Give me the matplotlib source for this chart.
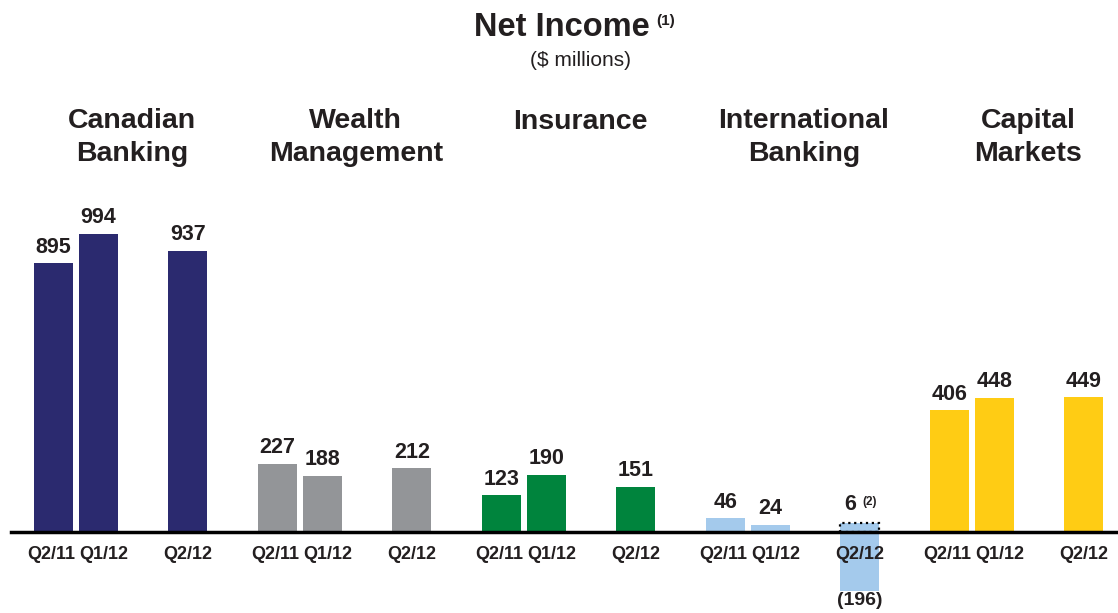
import matplotlib.pyplot as plt
from matplotlib.patches import Rectangle

plt.rcParams['font.family'] = ['Liberation Sans', 'DejaVu Sans']

segments = ["Canadian\nBanking", "Wealth\nManagement", "Insurance",
            "International\nBanking", "Capital\nMarkets"]
quarters = ["Q2/11", "Q1/12", "Q2/12"]
q2_11 = [895, 227, 123, 46, 406]
q1_12 = [994, 188, 190, 24, 448]
q2_12 = [937, 212, 151, -196, 449]
colors = ["#2b2a6f", "#939598", "#00843d", "#a4caec", "#ffcc14"]

# International Banking Q2/12 adjusted figure shown as dotted box
intl_adj = 6

fig = plt.figure(figsize=(11.18, 6.13), dpi=100)
ax = fig.add_axes([0, 0, 1, 1])
ax.set_xlim(-1.194, 23.76)
ax.set_ylim(-270, 1773)
ax.axis("off")

offsets = [0, 1, 3]
width = 0.87
for g, seg in enumerate(segments):
    vals = [q2_11[g], q1_12[g], q2_12[g]]
    xs = [5 * g + o for o in offsets]
    ax.bar(xs, vals, width=width, color=colors[g], zorder=2)

    for i, (x, v) in enumerate(zip(xs, vals)):
        if v >= 0:
            ax.annotate(str(v), (x, v), xytext=(0, 4), textcoords="offset points",
                        ha="center", va="bottom", fontsize=15.5, fontweight="bold",
                        color="#231f20")
        else:
            ax.annotate("(%d)" % abs(v), (x, v), xytext=(0, -1), textcoords="offset points",
                        ha="center", va="top", fontsize=14, fontweight="bold",
                        color="#231f20")
        # tick labels
        if i == 0:
            tx, ha = x + width / 2 + 0.05, "right"
        elif i == 1:
            tx, ha = x - width / 2, "left"
        else:
            tx, ha = x, "center"
        ax.annotate(quarters[i], (tx, 0), xytext=(0, -16), textcoords="offset points",
                    ha=ha, va="center", fontsize=13, fontweight="bold", color="#231f20",
                    zorder=4)

    # segment heading
    nlines = seg.count("\n") + 1
    ty = 0.801 if nlines == 1 else 0.775
    fig.text((53.5 + 44.8 * (5 * g + 1.75)) / 1118, ty, seg, ha="center", va="center",
             fontsize=20.5, fontweight="bold", color="#231f20", linespacing=1.35)

# dotted box for the adjusted International Banking figure
xi = 5 * 3 + 3
ax.add_patch(Rectangle((xi - width / 2, 0), width, 30, facecolor=colors[3],
                       edgecolor="black", linestyle=":", linewidth=1.6, zorder=3))
ax.annotate(str(intl_adj), (xi, 30), xytext=(-7, 6), textcoords="offset points",
            ha="center", va="bottom", fontsize=15.5, fontweight="bold", color="#231f20")
ax.annotate("(2)", (xi, 30), xytext=(2, 11), textcoords="offset points",
            ha="left", va="bottom", fontsize=8.5, fontweight="bold", color="#231f20")

# baseline
ax.axhline(0, xmin=11 / 1118, xmax=1, color="black", linewidth=2.5, zorder=3)

# title
fig.text(562 / 1118, 1 - 27 / 613, "Net Income", ha="center", va="center",
         fontsize=23.5, fontweight="bold", color="#231f20")
fig.text(656 / 1118, 1 - 21 / 613, "(1)", ha="left", va="center",
         fontsize=11, fontweight="bold", color="#231f20")
fig.text(580 / 1118, 1 - 61 / 613, "($ millions)", ha="center", va="center",
         fontsize=15, color="#231f20")

fig.savefig("out.png", dpi=100)
